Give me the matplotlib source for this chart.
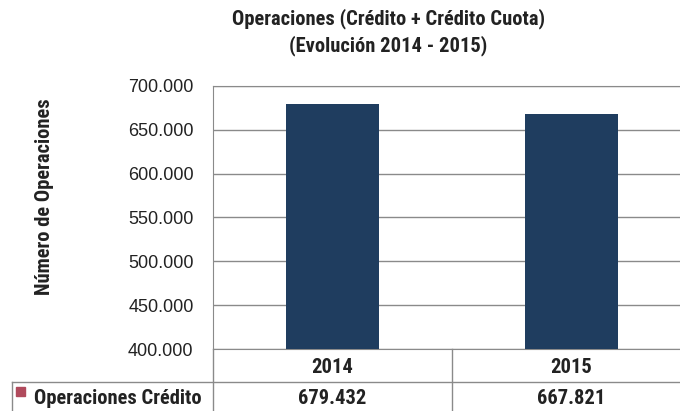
import matplotlib.pyplot as plt
from matplotlib import font_manager

years = ["2014", "2015"]
operaciones = [679432, 667821]
serie = "Operaciones Crédito"
yticks = [400000, 450000, 500000, 550000, 600000, 650000, 700000]

# pick a narrow bold family for the titles and table
names = {f.name for f in font_manager.fontManager.ttflist}
narrow = "DejaVu Sans"
for cand in ["Liberation Sans Narrow", "Roboto Condensed", "Arimo Narrow", "PT Sans Narrow",
             "Archivo Narrow", "Sofia Sans Condensed"]:
    if cand in names:
        narrow = cand
        break


def miles(v):
    return f"{v:,.0f}".replace(",", ".")


txt = dict(fontsize=14.8, fontweight="bold", family=narrow, color="#222222")

fig = plt.figure(figsize=(6.8, 4.11), dpi=100)
ax = fig.add_axes([213 / 680, 62 / 411, 478 / 680, 263 / 411])

x = list(range(len(years)))
ax.bar(x, operaciones, width=0.39, color="#1f3d5f", zorder=3)
ax.set_xlim(-0.5, len(years) - 0.5)
ax.set_ylim(400000, 700000)
ax.set_yticks(yticks)
ax.set_yticklabels([miles(v) for v in yticks], fontsize=13, family="Liberation Sans", color="#222222")
ax.set_xticks([])
ax.tick_params(axis="y", length=0, pad=14)
ax.grid(axis="y", color="#8a8a8a", linewidth=1.0, zorder=0)
for s in ax.spines.values():
    s.set_color("#8a8a8a")
ax.spines["right"].set_visible(False)

fig.text(388 / 680, 1 - 19 / 411, "Operaciones (Crédito + Crédito Cuota)", ha="center", va="center", **txt)
fig.text(388 / 680, 1 - 46 / 411, "(Evolución 2014 - 2015)", ha="center", va="center", **txt)

fig.text(45 / 680, 1 - 197 / 411, "Número de Operaciones", rotation=90, ha="center", va="center", **txt)

# data table under the axis
px = 1 / 680
py = 1 / 411
line = dict(color="#8a8a8a", linewidth=1.0, transform=fig.transFigure)
fig.add_artist(plt.Line2D([12 * px, 1], [1 - 382 * py, 1 - 382 * py], **line))
fig.add_artist(plt.Line2D([12 * px, 12 * px], [1 - 382 * py, 0], **line))
fig.add_artist(plt.Line2D([213 * px, 213 * px], [1 - 349 * py, 0], **line))
fig.add_artist(plt.Line2D([452 * px, 452 * px], [1 - 349 * py, 0], **line))

trans = ax.get_xaxis_transform()
for i, (yr, v) in enumerate(zip(years, operaciones)):
    ax.text(i, -(367 - 349) / 263, yr, transform=trans, ha="center", va="center", clip_on=False, **txt)
    ax.text(i, -(398 - 349) / 263, miles(v), transform=trans, ha="center", va="center", clip_on=False, **txt)

fig.patches.append(plt.Rectangle((16 * px, 1 - 396 * py), 9 * px, 9 * py, color="#b04a5c",
                                 transform=fig.transFigure, figure=fig))
fig.text(34 * px, 1 - 398 * py, serie, ha="left", va="center", **txt)

fig.savefig("out.png", dpi=100)
